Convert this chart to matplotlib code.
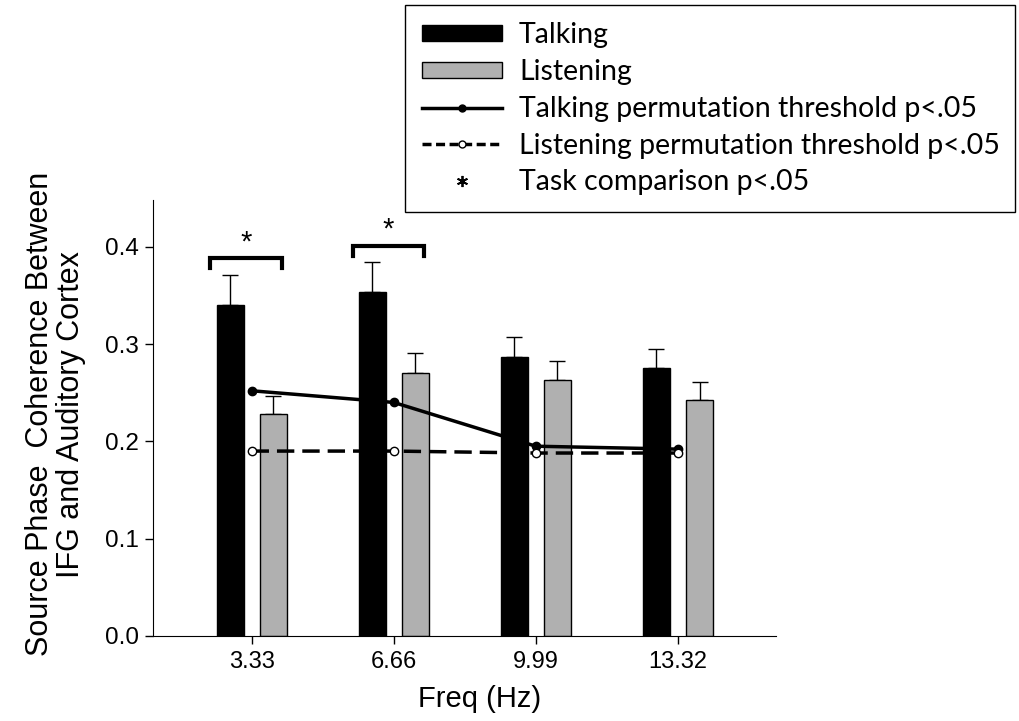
import numpy as np
import matplotlib
matplotlib.use('Agg')
import matplotlib.pyplot as plt
from matplotlib.lines import Line2D
from matplotlib.patches import Patch

# data
freqs = ['3.33', '6.66', '9.99', '13.32']
talking = [0.340, 0.354, 0.287, 0.275]
talking_err = [0.031, 0.030, 0.020, 0.020]
listening = [0.228, 0.270, 0.263, 0.242]
listening_err = [0.019, 0.021, 0.020, 0.019]
talking_thresh = [0.252, 0.240, 0.195, 0.192]
listening_thresh = [0.190, 0.190, 0.188, 0.188]
sig_idx = [0, 1]
sig_height = [0.388, 0.401]

plt.rcParams['font.family'] = ['Liberation Sans', 'DejaVu Sans']

fig = plt.figure(figsize=(10.19, 7.21), dpi=100)
ax = fig.add_axes([0.150, 0.118, 0.6115, 0.6045])

x = np.arange(len(freqs))
w = 0.19
off = 0.152

ax.bar(x - off, talking, width=w, color='black', edgecolor='black', linewidth=1, zorder=2)
ax.bar(x + off, listening, width=w, color='#b0b0b0', edgecolor='black', linewidth=1, zorder=2)
ax.errorbar(x - off, talking, yerr=[np.zeros(4), talking_err], fmt='none',
            ecolor='black', elinewidth=1, capsize=6, capthick=1, zorder=1)
ax.errorbar(x + off, listening, yerr=[np.zeros(4), listening_err], fmt='none',
            ecolor='black', elinewidth=1, capsize=6, capthick=1, zorder=1)

ax.plot(x, talking_thresh, color='black', lw=2.5, marker='o', ms=6,
        mfc='black', mec='black', zorder=3)
ax.plot(x, listening_thresh, color='black', lw=2.5, ls=(0, (5, 2.3)), marker='o', ms=6,
        mfc='white', mec='black', zorder=3)

# significance brackets
for i, h in zip(sig_idx, sig_height):
    x0, x1 = x[i] - 0.29, x[i] + 0.215
    ax.plot([x0, x0, x1, x1], [h - 0.010, h, h, h - 0.010], color='black', lw=3,
            solid_joinstyle='miter', zorder=3)
    ax.text((x0 + x1) / 2, h + 0.002, '*', ha='center', va='bottom', fontsize=21)

ax.set_xlim(-0.695, 3.69)
ax.set_ylim(0, 0.448)
ax.set_xticks(x)
ax.set_xticklabels(freqs)
ax.set_yticks([0, 0.1, 0.2, 0.3, 0.4])
ax.set_yticklabels(['0.0', '0.1', '0.2', '0.3', '0.4'])
ax.tick_params(length=6, width=1, color='black', direction='out')
ax.tick_params(axis='x', labelsize=17, pad=5)
ax.tick_params(axis='y', labelsize=17.5, pad=4)
ax.spines['top'].set_visible(False)
ax.spines['right'].set_visible(False)
ax.set_xlabel('Freq (Hz)', fontsize=21)
ax.xaxis.set_label_coords(0.525, -0.112)
ax.set_ylabel('Source Phase  Coherence Between\nIFG and Auditory Cortex',
              fontsize=22, linespacing=1.02)
ax.yaxis.set_label_coords(-0.108, 0.509)

handles = [
    Patch(facecolor='black', edgecolor='black'),
    Patch(facecolor='#b0b0b0', edgecolor='black'),
    Line2D([], [], color='black', lw=2.5, marker='o', ms=5, mfc='black'),
    Line2D([], [], color='black', lw=2.5, ls=(0, (2.6, 1.3)), marker='o', ms=5, mfc='white'),
    Line2D([], [], color='black', lw=0, marker=(6, 2, 0), ms=8, mew=1.3),
]
labels = ['Talking', 'Listening', 'Talking permutation threshold p<.05',
          'Listening permutation threshold p<.05', 'Task comparison p<.05']
leg = fig.legend(handles, labels, loc='upper left',
                 bbox_to_anchor=(405 / 1019, 1 - 5 / 721, 610 / 1019, 0),
                 mode='expand', fancybox=False, edgecolor='black', framealpha=1,
                 handlelength=2.8, handleheight=0.5, labelspacing=0.38,
                 prop={'family': ['Lato', 'DejaVu Sans'], 'size': 20.5},
                 borderpad=0.6, handletextpad=0.6, borderaxespad=0)
leg.get_frame().set_linewidth(1)

fig.savefig('out.png', dpi=100)
